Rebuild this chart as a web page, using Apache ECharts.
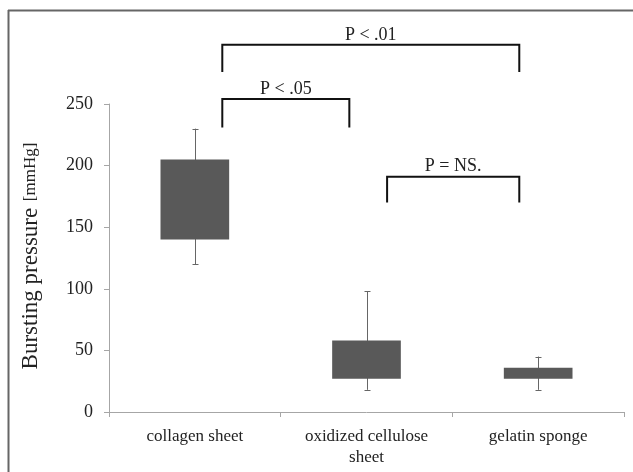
<!DOCTYPE html>
<html>
<head>
<meta charset="utf-8">
<script src="https://cdn.jsdelivr.net/npm/echarts@6/dist/echarts.min.js"></script>
<style>
  html, body { margin: 0; padding: 0; background: #fff; }
  #main { width: 633px; height: 472px; }
</style>
</head>
<body>
<div id="main"></div>
<script>
const categories = ['collagen sheet', 'oxidized cellulose\nsheet', 'gelatin sponge'];
// [low whisker, box bottom, box top, high whisker]
const lowWhisker = [120, 18, 18];
const boxBottom = [140, 27, 27];
const boxTop = [205, 58, 36];
const highWhisker = [230, 98, 45];
const yTicks = [0, 50, 100, 150, 200, 250];

// significance brackets: x in category units, y in mmHg
const bracketLabels = ['P < .01', 'P < .05', 'P = NS.'];
const bracketLeft = [0.16, 0.16, 1.12];
const bracketRight = [1.89, 0.9, 1.89];
const bracketTop = [298, 254, 191];
const bracketFoot = [276, 231, 170];

window.onload = function () {
    let myChart = echarts.init(document.getElementById('main'));

    let boxData = categories.map((c, i) => [i, lowWhisker[i], boxBottom[i], boxTop[i], highWhisker[i]]);
    let bracketData = bracketLabels.map((t, i) => [bracketLeft[i], bracketRight[i], bracketTop[i], bracketFoot[i], i]);

    let serif = '"Liberation Serif", "DejaVu Serif", serif';

    let option = {
        animation: false,
        backgroundColor: '#fff',
        grid: { left: 109, right: 9, top: 104, bottom: 60 },
        xAxis: [
            {
                type: 'category',
                data: categories,
                axisLine: { lineStyle: { color: '#a6a6a6', width: 1 } },
                axisTick: { show: true, length: 5, lineStyle: { color: '#a6a6a6' } },
                axisLabel: { fontFamily: serif, fontSize: 17, color: '#222', margin: 14, lineHeight: 21 }
            },
            {
                type: 'value',
                min: -0.5,
                max: 2.5,
                show: false
            }
        ],
        yAxis: {
            type: 'value',
            min: yTicks[0],
            max: yTicks[yTicks.length - 1],
            interval: 50,
            splitLine: { show: false },
            axisLine: { show: true, onZero: false, lineStyle: { color: '#a6a6a6', width: 1 } },
            axisTick: { show: true, length: 5, lineStyle: { color: '#a6a6a6' } },
            axisLabel: { fontFamily: serif, fontSize: 18, color: '#222', margin: 16 }
        },
        graphic: [
            // frame (top and left edges only)
            { type: 'line', shape: { x1: 8, y1: 10.5, x2: 633, y2: 10.5 }, style: { stroke: '#666', lineWidth: 2 } },
            { type: 'line', shape: { x1: 8.5, y1: 10, x2: 8.5, y2: 472 }, style: { stroke: '#666', lineWidth: 2 } },
            {
                type: 'text',
                x: 31,
                y: 256,
                rotation: Math.PI / 2,
                style: {
                    text: '{a|Bursting pressure}  {b|[mmHg]}',
                    rich: {
                        a: { fontFamily: serif, fontSize: 23, fill: '#222' },
                        b: { fontFamily: serif, fontSize: 17, fill: '#222' }
                    },
                    align: 'center',
                    verticalAlign: 'middle'
                }
            }
        ],
        series: [
            {
                type: 'custom',
                xAxisIndex: 1,
                data: boxData,
                renderItem: function (params, api) {
                    let x = api.value(0);
                    let lo = api.coord([x, api.value(1)]);
                    let q1 = api.coord([x, api.value(2)]);
                    let q3 = api.coord([x, api.value(3)]);
                    let hi = api.coord([x, api.value(4)]);
                    let left = api.coord([x - 0.2, 0])[0];
                    let right = api.coord([x + 0.2, 0])[0];
                    let cx = Math.round(lo[0]) + 0.5;
                    let cap = 3;
                    let ls = { stroke: '#666', lineWidth: 1 };
                    return {
                        type: 'group',
                        children: [
                            { type: 'line', shape: { x1: cx, y1: lo[1], x2: cx, y2: hi[1] }, style: ls },
                            { type: 'line', shape: { x1: cx - cap, y1: Math.round(lo[1]) + 0.5, x2: cx + cap, y2: Math.round(lo[1]) + 0.5 }, style: ls },
                            { type: 'line', shape: { x1: cx - cap, y1: Math.round(hi[1]) + 0.5, x2: cx + cap, y2: Math.round(hi[1]) + 0.5 }, style: ls },
                            { type: 'rect', shape: { x: left, y: q3[1], width: right - left, height: q1[1] - q3[1] }, style: { fill: '#595959' } }
                        ]
                    };
                }
            },
            {
                type: 'custom',
                xAxisIndex: 1,
                clip: false,
                data: bracketData,
                renderItem: function (params, api) {
                    let p1 = api.coord([api.value(0), api.value(2)]);
                    let p2 = api.coord([api.value(1), api.value(2)]);
                    let foot = api.coord([0, api.value(3)])[1];
                    let label = bracketLabels[api.value(4)];
                    return {
                        type: 'group',
                        children: [
                            {
                                type: 'polyline',
                                shape: { points: [[p1[0], foot], [p1[0], p1[1]], [p2[0], p2[1]], [p2[0], foot]] },
                                style: { stroke: '#111', lineWidth: 2, fill: null }
                            },
                            {
                                type: 'text',
                                x: (p1[0] + p2[0]) / 2,
                                y: p1[1] - 1,
                                style: {
                                    text: label,
                                    fontFamily: serif,
                                    fontSize: 18,
                                    fill: '#222',
                                    align: 'center',
                                    verticalAlign: 'bottom'
                                }
                            }
                        ]
                    };
                }
            }
        ]
    };

    myChart.setOption(option);
};
</script>
</body>
</html>
